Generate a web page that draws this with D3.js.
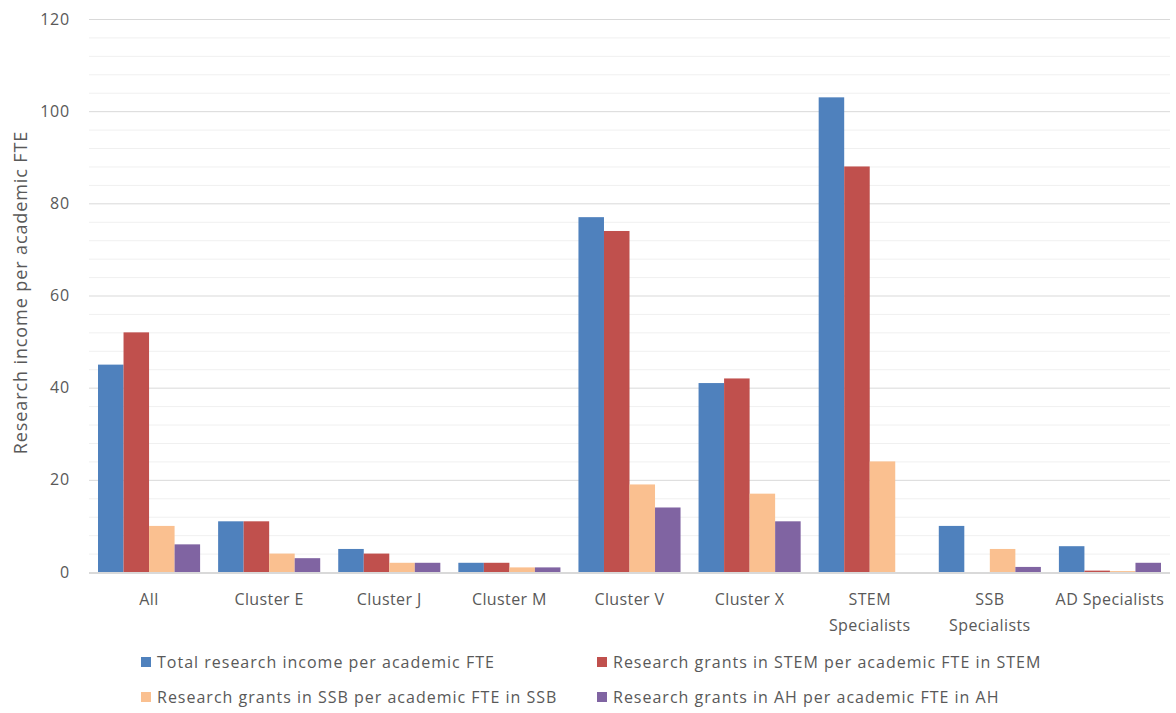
<!DOCTYPE html>
<html>
<head>
<meta charset="utf-8">
<script src="https://cdn.jsdelivr.net/npm/d3@7"></script>
<style>
  html, body { margin: 0; padding: 0; background: #fff; }
  svg { display: block; font-family: "Open Sans", Lato, sans-serif; }
  text { fill: #595959; }
</style>
</head>
<body>
<svg id="chart" width="1176" height="713"></svg>
<script>
// Groups along the x axis (second element, if any, goes on a second line)
const categories = [
  ["All"], ["Cluster E"], ["Cluster J"], ["Cluster M"], ["Cluster V"],
  ["Cluster X"], ["STEM", "Specialists"], ["SSB", "Specialists"], ["AD Specialists"]
];
const seriesNames = [
  "Total research income per academic FTE",
  "Research grants in STEM per academic FTE in STEM",
  "Research grants in SSB per academic FTE in SSB",
  "Research grants in AH per academic FTE in AH"
];
const totalIncome = [45, 11, 5, 2, 77, 41, 103, 10, 5.6];
const stemGrants  = [52, 11, 4, 2, 74, 42, 88, 0, 0.3];
const ssbGrants   = [10, 4, 2, 1, 19, 17, 24, 5, 0.2];
const ahGrants    = [6, 3, 2, 1, 14, 11, 0, 1.1, 2];
const yTicks = [0, 20, 40, 60, 80, 100, 120];
const colors = ["#4F81BD", "#C0504D", "#FAC090", "#8064A2"];

const seriesValues = [totalIncome, stemGrants, ssbGrants, ahGrants];

const svg = d3.select("#chart");
const m = { left: 89, right: 6, top: 19, bottom: 141 };
const W = 1176, H = 713;

const keys = categories.map(c => c.join(" "));
const x = d3.scaleBand().domain(keys).range([m.left, W - m.right]).paddingInner(0.15).paddingOuter(0.075);
const xs = d3.scaleBand().domain(d3.range(seriesValues.length)).range([0, x.bandwidth()]);
const y = d3.scaleLinear().domain([0, 120]).range([H - m.bottom, m.top]);

// minor gridlines every 4 units
const minor = d3.range(0, 121, 4).filter(v => v % 20 !== 0);
svg.append("g").selectAll("line").data(minor).join("line")
  .attr("x1", m.left).attr("x2", W - m.right)
  .attr("y1", d => y(d) + 0.5).attr("y2", d => y(d) + 0.5)
  .attr("stroke", "#f0f0f0").attr("stroke-width", 1);

// major gridlines + tick labels
const yAxis = d3.axisLeft(y).tickValues(yTicks).tickSize(-(W - m.left - m.right)).tickPadding(19);
const gy = svg.append("g").attr("transform", `translate(${m.left},0)`).call(yAxis);
gy.select(".domain").remove();
gy.selectAll(".tick line").attr("stroke", "#d9d9d9").attr("stroke-width", 1)
  .filter(d => d === 0).remove();
gy.selectAll(".tick text").attr("fill", "#595959").style("font-size", "16px")
  .style("letter-spacing", "0.8px")
  .style("font-family", "'Open Sans', Lato, sans-serif");

// bars
const groups = svg.append("g").selectAll("g").data(keys).join("g")
  .attr("transform", d => `translate(${x(d)},0)`);
groups.selectAll("rect")
  .data((d, i) => seriesValues.map((s, j) => ({ j, v: s[i] })))
  .join("rect")
  .attr("x", d => xs(d.j))
  .attr("width", xs.bandwidth())
  .attr("y", d => y(d.v))
  .attr("height", d => y(0) - y(d.v))
  .attr("fill", d => colors[d.j]);

// baseline
svg.append("line")
  .attr("x1", m.left).attr("x2", W - m.right)
  .attr("y1", y(0) + 1).attr("y2", y(0) + 1)
  .attr("stroke", "#d9d9d9").attr("stroke-width", 2);

// category labels
const xl = svg.append("g");
categories.forEach((c, i) => {
  const cx = x(keys[i]) + x.bandwidth() / 2;
  const t = xl.append("text")
    .attr("x", cx)
    .attr("y", y(0) + 33)
    .attr("text-anchor", "middle")
    .style("font-size", "16px")
    .style("letter-spacing", "0.4px");
  c.forEach((line, k) => {
    t.append("tspan").attr("x", cx).attr("dy", k === 0 ? 0 : 26).text(line);
  });
});

// y axis title
svg.append("text")
  .attr("transform", `translate(27, ${(y(0) + y(120)) / 2 - 3}) rotate(-90)`)
  .attr("text-anchor", "middle")
  .style("font-size", "18px")
  .style("letter-spacing", "0.9px")
  .text("Research income per academic FTE");

// legend
const legendPos = [[141, 663], [597, 663], [141, 698], [597, 698]];
const lg = svg.append("g");
seriesNames.forEach((name, i) => {
  const [lx, ly] = legendPos[i];
  lg.append("rect").attr("x", lx).attr("y", ly - 6).attr("width", 10).attr("height", 10).attr("fill", colors[i]);
  lg.append("text").attr("x", lx + 16).attr("y", ly + 5)
    .style("font-size", "16px").style("letter-spacing", "1px").text(name);
});
</script>
</body>
</html>
